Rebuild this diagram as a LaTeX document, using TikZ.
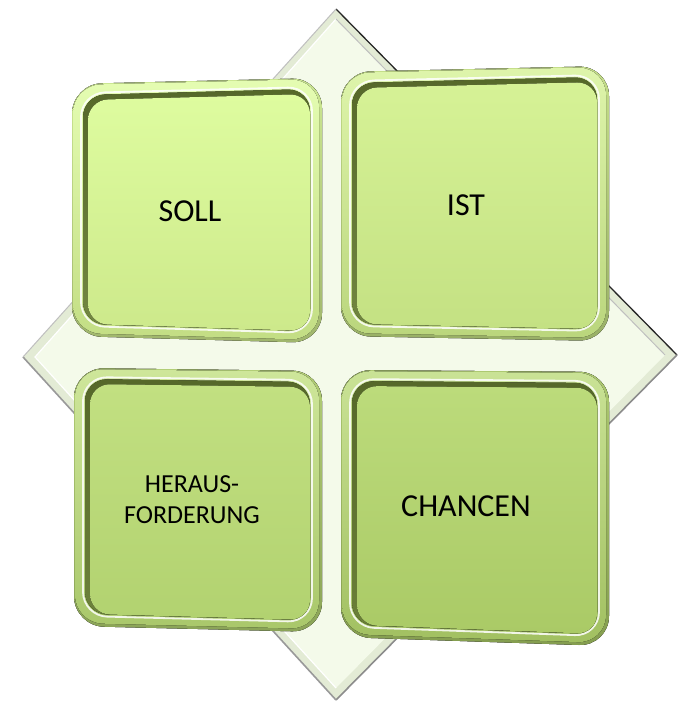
\documentclass[tikz,border=0pt]{standalone}
\usepackage{fontspec}
\setmainfont{Carlito}
\usetikzlibrary{calc}
\definecolor{dmfill}{HTML}{F4FAEA}
\definecolor{dmbevel}{HTML}{E3EBD5}
\definecolor{wall}{HTML}{56682A}
\definecolor{shade}{HTML}{3A4520}
\definecolor{sollA}{HTML}{DEFC9F}\definecolor{sollB}{HTML}{CDE98B}
\definecolor{istA}{HTML}{D6F296}\definecolor{istB}{HTML}{C4E183}
\definecolor{herA}{HTML}{C2E081}\definecolor{herB}{HTML}{B2D270}
\definecolor{chaA}{HTML}{BCDB7B}\definecolor{chaB}{HTML}{AACA66}
\tikzset{
  label text/.style={font=\fontsize{32}{36}\selectfont, text=black, align=center},
  small label/.style={font=\fontsize{26}{31}\selectfont, text=black, align=center},
}
% #1 prefix, #2 inset top/left, #3 inset bottom/right, #4 options
\newcommand\qfill[4]{\fill[#4] ($(#1a)+(#2,#2)$) -- ($(#1b)+(-#3,#2)$) -- ($(#1c)+(-#3,-#3)$) -- ($(#1d)+(#2,-#3)$) -- cycle;}
\newcommand\qdraw[4]{\draw[#4] ($(#1a)+(#2,#2)$) -- ($(#1b)+(-#3,#2)$) -- ($(#1c)+(-#3,-#3)$) -- ($(#1d)+(#2,-#3)$) -- cycle;}
% #1 prefix, #2..#5 corners TL TR BR BL, #6 face top colour, #7 face bottom colour
\newcommand\gbox[7]{%
  \coordinate (#1a) at (#2);\coordinate (#1b) at (#3);
  \coordinate (#1c) at (#4);\coordinate (#1d) at (#5);
  \qfill{#1}{0}{0}{black,opacity=0.10,rounded corners=30pt,shift={(10,8)}}
  \qfill{#1}{0}{0}{black,opacity=0.15,rounded corners=30pt,shift={(7,6)}}
  \qfill{#1}{0}{0}{shade,opacity=0.55,rounded corners=30pt,shift={(4,3)}}
  \qfill{#1}{0}{0}{top color=#6!92!black,bottom color=#7!78!black,rounded corners=30pt}
  \qfill{#1}{1}{3}{top color=#6!80!white,bottom color=#7!95!black,rounded corners=28pt}
  \qdraw{#1}{9}{10}{white,line width=1.8pt,rounded corners=24pt,opacity=0.85}
  \qfill{#1}{11}{12}{top color=wall,bottom color=wall!75!#7,rounded corners=22pt}
  \qfill{#1}{16}{12}{top color=#6,bottom color=#7,rounded corners=20pt}
}
\begin{document}
\begin{tikzpicture}[x=1pt,y=-1pt]
\useasboundingbox (0,0) rectangle (677,703);
% diamond
\coordinate (dt) at (336,9);
\coordinate (dr) at (677,355);
\coordinate (db) at (336,700);
\coordinate (dl) at (23,357);
\fill[dmbevel] (dt) -- (dr) -- (db) -- (dl) -- cycle;
\fill[dmfill] ($(dt)+(0,10)$) -- ($(dr)+(-12,0)$) -- ($(db)+(0,-12)$) -- ($(dl)+(12,0)$) -- cycle;
\draw[black!85,line width=1.3pt] (dt) -- (dr);
\draw[black!45,line width=1.6pt] (dr) -- (db);
\draw[black!40,line width=1.6pt] (db) -- (dl);
\draw[black!25,line width=1pt] (dl) -- (dt);
\draw[white,line width=1.2pt] ($(dt)+(0,10)$) -- ($(dl)+(12,0)$) -- ($(db)+(0,-12)$);
\draw[black!25,line width=1pt] ($(dt)+(0,10)$) -- ($(dr)+(-12,0)$);
% boxes
\gbox{s}{72,84}{322,78}{322,343}{72,336}{sollA}{sollB}
\gbox{i}{341,72}{609,66}{609,341}{341,336}{istA}{istB}
\gbox{h}{74,368}{322,371}{322,632}{74,626}{herA}{herB}
\gbox{c}{341,370}{609,372}{609,646}{341,637}{chaA}{chaB}
% labels
\node[label text] (soll) at (190,211) {SOLL};
\node[label text] (ist) at (466,205) {IST};
\node[small label] (heraus) at (192,500) {HERAUS-\\FORDERUNG};
\node[label text] (chancen) at (466,506) {CHANCEN};
\end{tikzpicture}
\end{document}
